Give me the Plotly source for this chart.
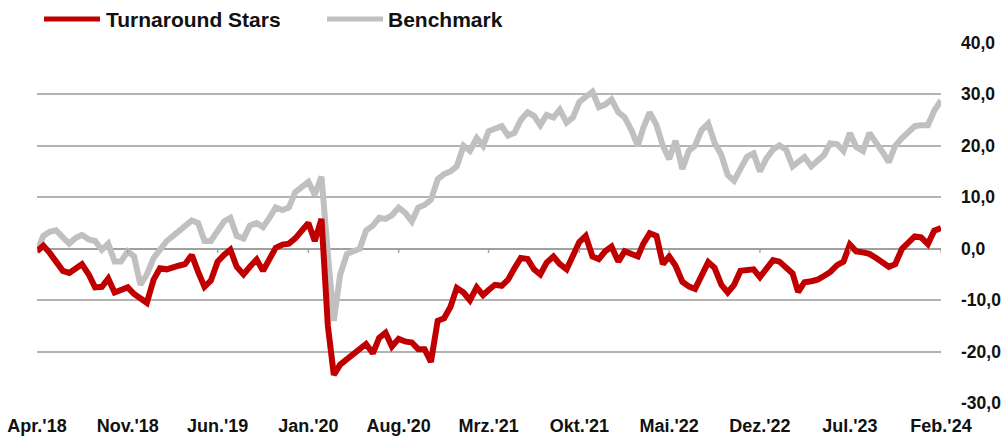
import datetime as dt
import plotly.graph_objects as go

# ---- data (half-monthly readings, Apr 2018 - Feb 2024) ----
turnaround_stars = [
    -0.5, 0.6, -0.8, -2.3, -4.3, -4.7, -3.8, -3.0, -5.0, -7.5,
    -7.4, -5.8, -8.5, -8.0, -7.5, -8.8, -9.5, -10.5, -6.0, -3.8,
    -4.0, -3.5, -3.3, -3.0, -1.2, -4.5, -7.4, -6.2, -2.5, -1.2,
    -0.2, -3.5, -5.0, -3.5, -2.1, -4.3, -2.0, 0.2, 0.8, 1.0,
    2.0, 3.5, 5.0, 1.5, 5.8, -15.0, -24.5, -22.5, -21.5, -20.2,
    -19.5, -18.5, -20.3, -17.3, -16.3, -19.0, -17.5, -18.0, -18.2, -19.5,
    -19.5, -22.0, -14.0, -13.5, -11.3, -7.6, -8.5, -10.0, -7.5, -9.0,
    -8.0, -7.0, -7.2, -6.0, -3.8, -1.8, -2.0, -4.0, -5.0, -2.7,
    -1.5, -3.0, -4.0, -1.0, 1.3, 2.5, -1.5, -2.0, -0.5, 0.4,
    -2.5, -0.5, -1.0, -1.5, 1.0, 3.0, 2.5, -3.0, -1.5, -3.3,
    -6.4, -7.3, -7.8, -5.5, -2.6, -3.7, -7.0, -8.5, -7.0, -4.3,
    -4.0, -4.0, -5.5, -4.0, -2.2, -2.5, -3.5, -4.8, -8.4, -6.5,
    -6.3, -6.0, -5.3, -4.5, -3.2, -2.5, 0.8, -0.5, -0.7, -1.0,
    -1.8, -2.5, -3.5, -3.0, 0.0, 1.2, 2.4, 2.2, 0.9, 3.5,
    4.0,
]
benchmark = [
    -0.6, 2.5, 3.3, 3.6, 2.2, 1.0, 2.1, 2.7, 1.8, 1.5,
    -0.2, 1.0, -2.5, -2.5, -0.5, -1.5, -7.0, -5.0, -1.8, 0.0,
    1.5, 2.5, 3.5, 4.5, 5.5, 5.0, 1.5, 1.5, 3.5, 5.3,
    6.0, 2.5, 2.0, 4.5, 5.0, 4.2, 6.0, 8.0, 7.5, 8.0,
    11.0, 12.0, 13.0, 10.5, 14.0, -1.0, -14.0, -5.0, -1.0, -0.5,
    0.0, 3.5, 4.5, 6.0, 5.8, 6.5, 8.0, 7.0, 5.3, 8.0,
    8.5, 9.5, 13.5, 14.5, 15.0, 16.0, 20.0, 19.0, 21.5, 20.0,
    22.8, 23.3, 23.8, 22.0, 22.5, 25.0, 26.5, 25.8, 24.0, 26.0,
    25.5, 27.0, 24.5, 25.5, 28.5, 29.5, 30.5, 27.5, 28.0, 29.0,
    26.5, 25.5, 23.0, 20.0, 23.5, 26.5, 24.0, 20.0, 17.4, 21.0,
    15.5, 19.0, 20.0, 23.0, 24.3, 20.6, 18.2, 14.3, 13.2, 15.5,
    17.9, 18.5, 15.0, 17.5, 19.3, 20.1, 19.2, 16.0, 16.8, 17.8,
    16.0, 17.0, 18.2, 20.5, 20.3, 19.0, 22.5, 19.8, 19.0, 22.5,
    20.8, 18.8, 16.8, 20.0, 21.5, 22.5, 23.8, 24.0, 24.0, 26.8,
    28.8,
]
series_names = ["Turnaround Stars", "Benchmark"]
tick_dates = ["2018-04-01", "2018-11-01", "2019-06-01", "2020-01-01", "2020-08-01",
              "2021-03-01", "2021-10-01", "2022-05-01", "2022-12-01", "2023-07-01",
              "2024-02-01"]
tick_labels = ["Apr.'18", "Nov.'18", "Jun.'19", "Jan.'20", "Aug.'20", "Mrz.'21",
               "Okt.'21", "Mai.'22", "Dez.'22", "Jul.'23", "Feb.'24"]
y_ticks = [-30, -20, -10, 0, 10, 20, 30, 40]
y_tick_labels = [("%.1f" % v).replace(".", ",") for v in y_ticks]

# half-monthly date grid
dates = []
for m in range(71):
    y = 2018 + (3 + m) // 12
    mo = (3 + m) % 12 + 1
    for d in (1, 16):
        dates.append(dt.date(y, mo, d))
dates = dates[:len(turnaround_stars)]

RED = "#c00000"
GREY = "#c0c0c0"
FONT = "Liberation Sans, Arial, sans-serif"

fig = go.Figure()
fig.add_trace(go.Scatter(x=dates, y=benchmark, mode="lines", name=series_names[1],
                         line=dict(color=GREY, width=6), showlegend=False))
fig.add_trace(go.Scatter(x=dates, y=turnaround_stars, mode="lines", name=series_names[0],
                         line=dict(color=RED, width=6), showlegend=False))

W, H = 1003, 436
L, R, T, B = 37, 62, 42, 32
pw, ph = W - L - R, H - T - B


def px(xp):
    return (xp - L) / pw


def py(yp):
    return (H - B - yp) / ph


shapes = []
# zero-line tick marks
for d in tick_dates:
    shapes.append(dict(type="line", xref="x", yref="y", x0=d, x1=d, y0=0, y1=-0.8,
                       line=dict(color="#a0a0a0", width=1.5)))
# custom legend samples
shapes.append(dict(type="line", xref="paper", yref="paper", x0=px(44), x1=px(100),
                   y0=py(19), y1=py(19), line=dict(color=RED, width=5)))
shapes.append(dict(type="line", xref="paper", yref="paper", x0=px(327), x1=px(383),
                   y0=py(19), y1=py(19), line=dict(color=GREY, width=5)))

annotations = [
    dict(text=series_names[0], xref="paper", yref="paper", x=px(104), y=py(19),
         xanchor="left", yanchor="middle", showarrow=False,
         font=dict(family=FONT, size=21, color="#111111", weight="bold")),
    dict(text=series_names[1], xref="paper", yref="paper", x=px(386), y=py(19),
         xanchor="left", yanchor="middle", showarrow=False,
         font=dict(family=FONT, size=21, color="#111111", weight="bold")),
]

fig.update_layout(
    width=W, height=H,
    margin=dict(l=L, r=R, t=T, b=B, pad=0, autoexpand=False),
    paper_bgcolor="white", plot_bgcolor="white",
    showlegend=False,
    hovermode=False,
    shapes=shapes,
    annotations=annotations,
    xaxis=dict(type="date", range=["2018-04-01", "2024-02-01"],
               tickvals=tick_dates, ticktext=tick_labels, automargin=False,
               showgrid=False, zeroline=False, showline=False, ticks="",
               ticklabelstandoff=9, ticklabeloverflow="allow",
               tickfont=dict(family=FONT, size=18, color="#111111", weight="bold")),
    yaxis=dict(range=[-30.15, 40.15], tickvals=y_ticks, ticktext=y_tick_labels,
               side="right", automargin=False,
               showgrid=True, gridcolor="#b3b3b3", gridwidth=1.5,
               zeroline=True, zerolinecolor="#a0a0a0", zerolinewidth=2,
               showline=False, ticks="", ticklabelstandoff=19,
               tickfont=dict(family=FONT, size=17.5, color="#111111", weight="bold")),
)

fig.write_html("out.html", config={"displayModeBar": False},
               post_script="document.body.style.margin='0';document.body.style.overflow='hidden';")
